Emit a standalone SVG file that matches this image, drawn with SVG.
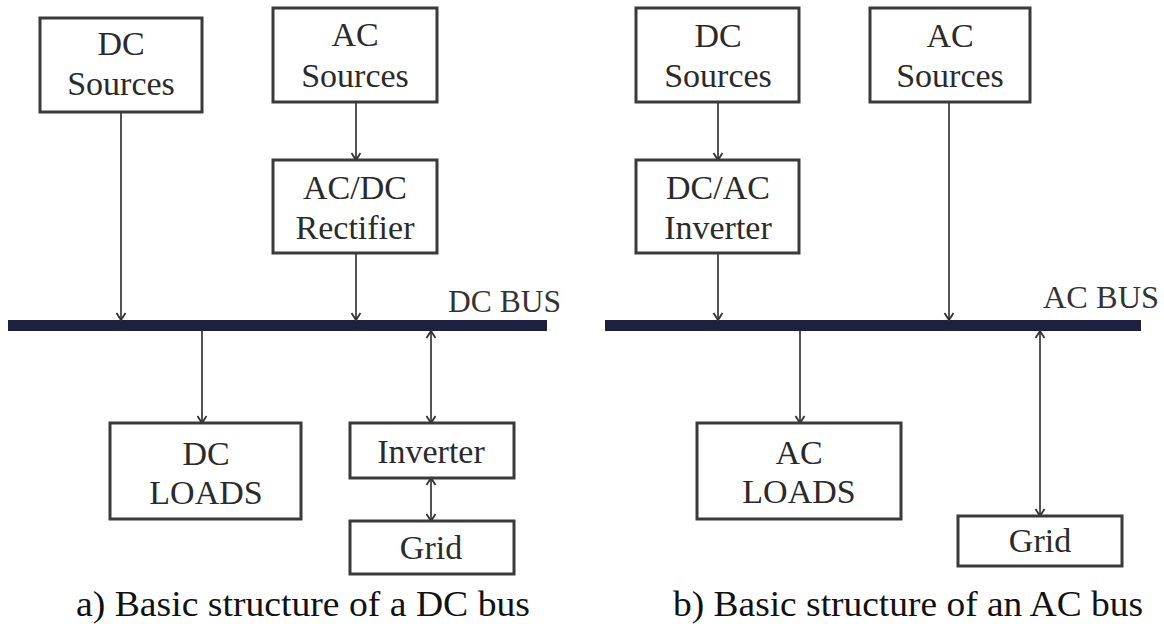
<svg xmlns="http://www.w3.org/2000/svg" width="1164" height="624" viewBox="0 0 1164 624" font-family="Liberation Serif, Times New Roman, Times, DejaVu Serif, serif">
  <style>
    .box { fill: #ffffff; stroke: #3a3a3a; stroke-width: 3; }
    .lbl { font-size: 34px; fill: #2a2a2a; text-anchor: middle; }
    .bus { fill: #1f2040; }
    .busname { font-size: 31px; fill: #333333; }
    .cap { font-size: 36px; fill: #111111; text-anchor: middle; }
    .wire { fill: none; stroke: #555555; stroke-width: 2; }
  </style>
  <defs>
    <marker id="head" markerUnits="userSpaceOnUse" markerWidth="12" markerHeight="12" refX="10" refY="6" orient="auto-start-reverse">
      <path d="M3,1.5 L10,6 L3,10.5" fill="none" stroke="#333333" stroke-width="1.8"/>
    </marker>
  </defs>

  <rect width="1164" height="624" fill="#ffffff"/>

  <!-- buses -->
  <g id="dc-bus">
    <rect class="bus" x="8" y="320" width="539" height="11"/>
    <text class="busname" x="448" y="312" textLength="113" lengthAdjust="spacingAndGlyphs">DC BUS</text>
  </g>
  <g id="ac-bus">
    <rect class="bus" x="605" y="320" width="536" height="11"/>
    <text class="busname" x="1043" y="308" textLength="116" lengthAdjust="spacingAndGlyphs">AC BUS</text>
  </g>

  <!-- connectors -->
  <g id="connectors">
    <line class="wire" x1="121" y1="112" x2="121" y2="320" marker-end="url(#head)"/>
    <line class="wire" x1="356" y1="102" x2="356" y2="160" marker-end="url(#head)"/>
    <line class="wire" x1="356" y1="253" x2="356" y2="320" marker-end="url(#head)"/>
    <line class="wire" x1="202" y1="331" x2="202" y2="423" marker-end="url(#head)"/>
    <line class="wire" x1="431" y1="331" x2="431" y2="423" marker-start="url(#head)" marker-end="url(#head)"/>
    <line class="wire" x1="431" y1="478" x2="431" y2="521" marker-start="url(#head)" marker-end="url(#head)"/>

    <line class="wire" x1="718" y1="102" x2="718" y2="160" marker-end="url(#head)"/>
    <line class="wire" x1="718" y1="253" x2="718" y2="320" marker-end="url(#head)"/>
    <line class="wire" x1="949" y1="102" x2="949" y2="320" marker-end="url(#head)"/>
    <line class="wire" x1="800" y1="331" x2="800" y2="423" marker-end="url(#head)"/>
    <line class="wire" x1="1040" y1="331" x2="1040" y2="516" marker-start="url(#head)" marker-end="url(#head)"/>
  </g>

  <!-- DC bus structure -->
  <g id="dc-sources-a">
    <rect class="box" x="40" y="18" width="162" height="94"/>
    <text class="lbl" x="121" y="55">DC</text>
    <text class="lbl" x="121" y="95">Sources</text>
  </g>
  <g id="ac-sources-a">
    <rect class="box" x="273" y="8" width="164" height="94"/>
    <text class="lbl" x="355" y="46">AC</text>
    <text class="lbl" x="355" y="87">Sources</text>
  </g>
  <g id="rectifier-a">
    <rect class="box" x="273" y="160" width="164" height="93"/>
    <text class="lbl" x="355" y="199">AC/DC</text>
    <text class="lbl" x="355" y="239">Rectifier</text>
  </g>
  <g id="dc-loads-a">
    <rect class="box" x="110" y="423" width="191" height="96"/>
    <text class="lbl" x="206" y="465">DC</text>
    <text class="lbl" x="206" y="504">LOADS</text>
  </g>
  <g id="inverter-a">
    <rect class="box" x="350" y="423" width="164" height="55"/>
    <text class="lbl" x="431" y="463">Inverter</text>
  </g>
  <g id="grid-a">
    <rect class="box" x="350" y="521" width="164" height="53"/>
    <text class="lbl" x="431" y="559">Grid</text>
  </g>
  <text class="cap" x="303" y="616" textLength="454" lengthAdjust="spacingAndGlyphs">a) Basic structure of a DC bus</text>

  <!-- AC bus structure -->
  <g id="dc-sources-b">
    <rect class="box" x="636" y="8" width="163" height="94"/>
    <text class="lbl" x="718" y="47">DC</text>
    <text class="lbl" x="718" y="87">Sources</text>
  </g>
  <g id="ac-sources-b">
    <rect class="box" x="870" y="8" width="160" height="94"/>
    <text class="lbl" x="950" y="47">AC</text>
    <text class="lbl" x="950" y="87">Sources</text>
  </g>
  <g id="inverter-b">
    <rect class="box" x="636" y="160" width="163" height="93"/>
    <text class="lbl" x="718" y="199">DC/AC</text>
    <text class="lbl" x="718" y="239">Inverter</text>
  </g>
  <g id="ac-loads-b">
    <rect class="box" x="697" y="423" width="204" height="96"/>
    <text class="lbl" x="799" y="464">AC</text>
    <text class="lbl" x="799" y="503">LOADS</text>
  </g>
  <g id="grid-b">
    <rect class="box" x="958" y="516" width="164" height="50"/>
    <text class="lbl" x="1040" y="552">Grid</text>
  </g>
  <text class="cap" x="908" y="616" textLength="470" lengthAdjust="spacingAndGlyphs">b) Basic structure of an AC bus</text>
</svg>
